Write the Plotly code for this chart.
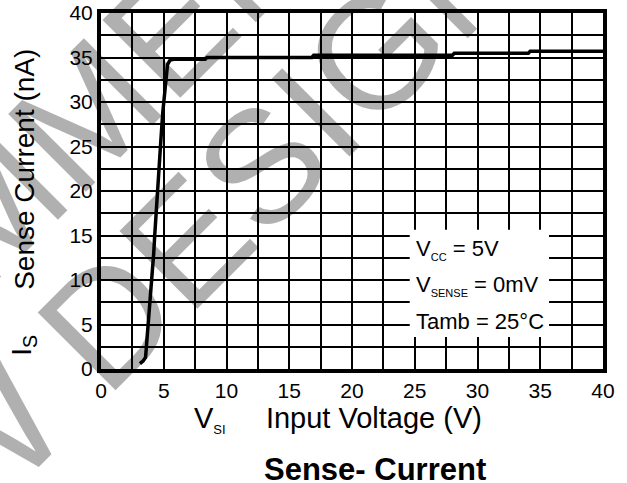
import plotly.graph_objects as go

# Sense current vs input voltage
vsi = [3.1, 3.35, 3.55, 3.62, 3.68, 3.8, 3.95, 4.1, 4.2, 4.28, 4.4, 4.57, 4.76, 4.92,
       5.05, 5.18, 5.3, 5.5, 5.8, 8.3, 8.45, 16.8, 16.95, 28.0, 28.15, 34.05, 34.2, 40]
i_sense = [0.6, 0.9, 1.3, 2.5, 4.0, 6.5, 8.5, 11.5, 13.0, 15.0, 18.0, 22.0, 25.5, 28.8,
           31.0, 33.3, 34.2, 34.7, 34.8, 34.8, 35.0, 35.0, 35.25, 35.25, 35.48, 35.48, 35.7, 35.7]

x_ticks = [0, 5, 10, 15, 20, 25, 30, 35, 40]
y_ticks = [0, 5, 10, 15, 20, 25, 30, 35, 40]

conditions = [
    "V<sub><span style='font-size:11px'>CC</span></sub> = 5V",
    "V<sub><span style='font-size:11px'>SENSE</span></sub> = 0mV",
    "Tamb = 25°C",
]
cond_y = [13.4, 9.35, 5.31]

FONT = "Liberation Sans, Arial, sans-serif"

fig = go.Figure()

fig.add_trace(go.Scatter(
    x=vsi, y=i_sense,
    mode="lines",
    line=dict(color="black", width=3.5),
    showlegend=False,
))

axis_common = dict(
    showgrid=True, gridcolor="black", gridwidth=2,
    showline=True, linecolor="black", linewidth=4, mirror=True,
    zeroline=False, ticks="", automargin=False, ticklabeloverflow="allow",
    tickfont=dict(family=FONT, size=21, color="black"),
    minor=dict(dtick=2.5, showgrid=True, gridcolor="black", gridwidth=2),
)

fig.update_xaxes(range=[0, 40], tickvals=x_ticks, **axis_common)
fig.update_yaxes(range=[0, 40], tickvals=y_ticks, **axis_common)

# white box behind the test conditions
fig.add_shape(type="rect", xref="x", yref="y", x0=24.6, x1=35.7, y0=3.6, y1=15.65,
              fillcolor="white", line=dict(width=0), layer="between")

annotations = []
for txt, yy in zip(conditions, cond_y):
    annotations.append(dict(x=24.95, y=yy, xref="x", yref="y", text=txt, showarrow=False,
                            xanchor="left", yanchor="middle",
                            font=dict(family=FONT, size=22, color="black")))

# axis titles and caption
annotations.append(dict(x=-0.155, y=0.066, xref="paper", yref="paper",
                        text="I<sub>S</sub>", textangle=-90,
                        showarrow=False, xanchor="center", yanchor="middle",
                        font=dict(family=FONT, size=28, color="black")))
annotations.append(dict(x=-0.153, y=0.560, xref="paper", yref="paper",
                        text="Sense Current (nA)", textangle=-90,
                        showarrow=False, xanchor="center", yanchor="middle",
                        font=dict(family=FONT, size=28, color="black")))
annotations.append(dict(x=0.473, y=-0.142, xref="paper", yref="paper",
                        text="V<sub><span style='font-size:13px'>SI</span></sub>     Input Voltage (V)",
                        showarrow=False, xanchor="center", yanchor="middle",
                        font=dict(family=FONT, size=29, color="black")))
annotations.append(dict(x=0.546, y=-0.282, xref="paper", yref="paper",
                        text="<b>Sense- Current</b>",
                        showarrow=False, xanchor="center", yanchor="middle",
                        font=dict(family=FONT, size=31, color="black")))

# diagonal watermark
wm_font = dict(family=FONT, size=160, color="rgba(0,0,0,0.31)")
annotations.append(dict(x=(136 - 101) / 502, y=(369.3 - 292) / 356, xref="paper", yref="paper",
                        text="NEW DESIGN", textangle=-45, showarrow=False,
                        xanchor="center", yanchor="middle", font=wm_font))
annotations.append(dict(x=(207 - 101) / 502, y=(369.3 + 7) / 356, xref="paper", yref="paper",
                        text="RECOMMENDED FOR", textangle=-45, showarrow=False,
                        xanchor="center", yanchor="middle", font=wm_font))

fig.update_layout(
    width=627, height=483,
    margin=dict(l=101, r=24, t=13, b=114),
    plot_bgcolor="white", paper_bgcolor="white",
    annotations=annotations,
)

# drop the default 8px page margin so the figure fills the window
fig.write_html("out.html", config={"displayModeBar": False},
               post_script="document.body.style.margin='0';")
